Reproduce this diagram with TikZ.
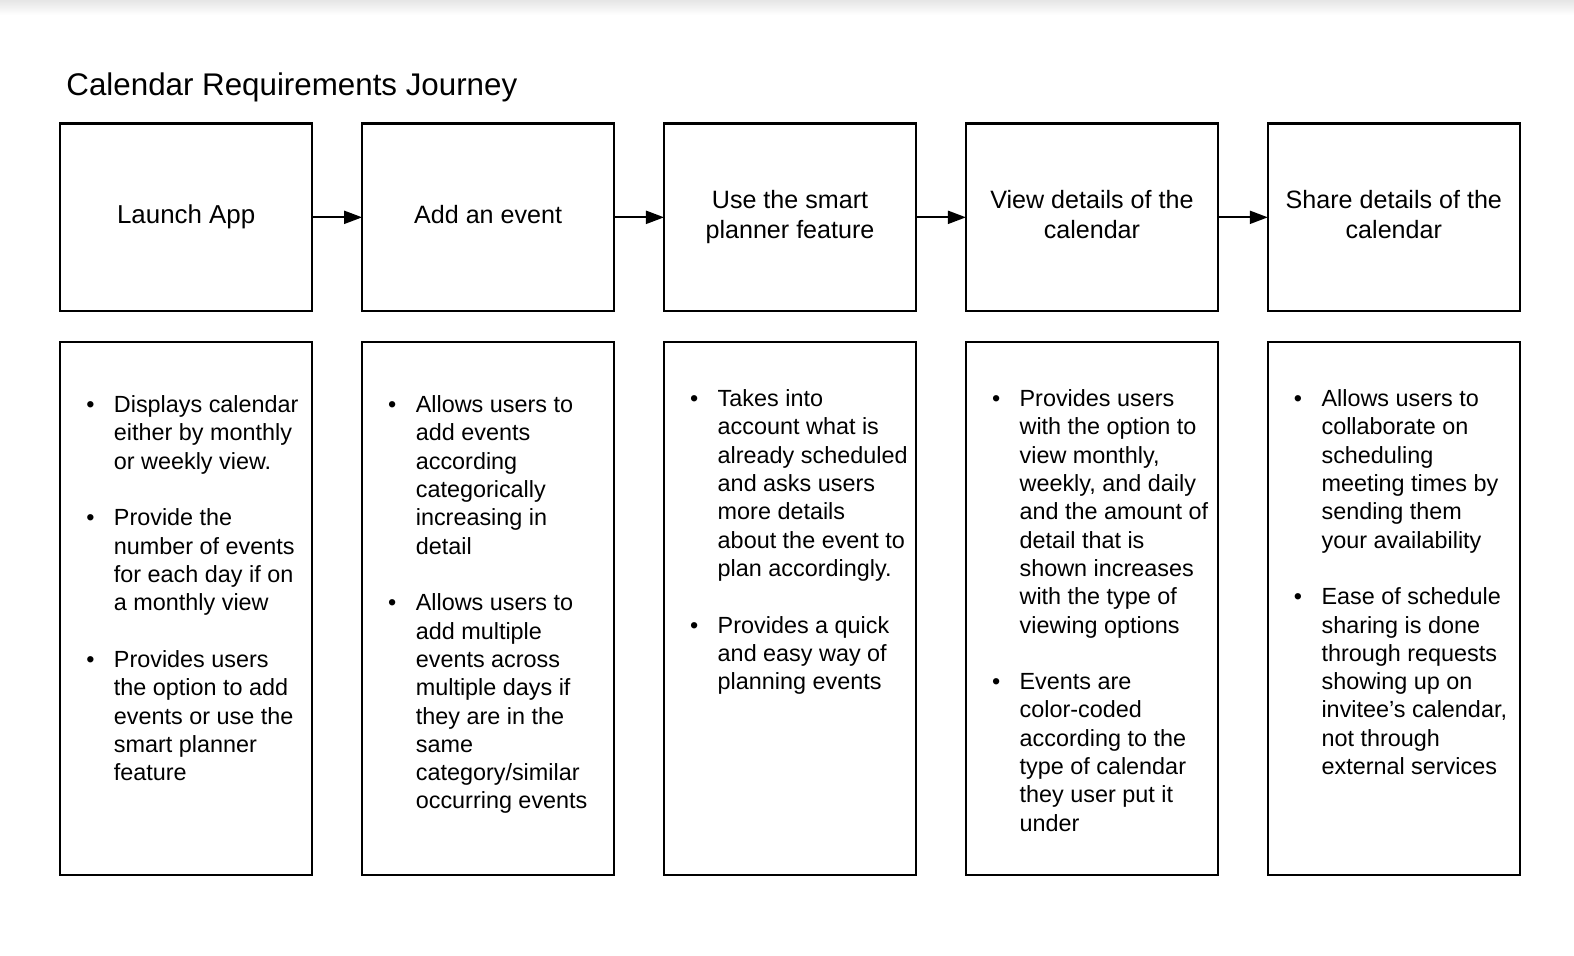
\documentclass[tikz,border=0pt]{standalone}
\usepackage{fontspec}
\setmainfont{Liberation Sans}
\usetikzlibrary{arrows.meta}
\newcommand\bodyfont{\fontsize{23.3}{28.2}\selectfont}
\newcommand\labelfont{\fontsize{25}{30}\selectfont}
\newenvironment{blist}{\bodyfont\begin{tabular}[t]{@{}p{27.5pt}@{}l@{}}}{\end{tabular}}
\newcommand\bu{\textbullet}
\begin{document}
\begin{tikzpicture}[x=1pt,y=-1pt,
  topbox/.style={draw, line width=2.2pt, minimum width=251pt, minimum height=187pt, inner sep=0pt, outer sep=0pt, align=center, font=\labelfont},
  botbox/.style={draw, line width=2.2pt, minimum width=251pt, minimum height=531pt, inner sep=0pt, outer sep=0pt},
  bodytext/.style={anchor=north west, inner sep=0pt, outer sep=0pt},
  arr/.style={line width=2pt, -{Triangle[length=18pt,width=13pt]}}]
\useasboundingbox (0,0) rectangle (1568,952);
\fill[white] (0,0) rectangle (1568,952);
\shade[top color=black!10, bottom color=white] (0,0) rectangle (1568,15);
\node[anchor=base west, inner sep=0pt, font=\fontsize{31.2}{36}\selectfont] (title) at (66,95) {Calendar Requirements Journey};
% top row
\node[topbox, font=\fontsize{25.8}{30}\selectfont] (t1) at (185.5,216.5) {\strut Launch App};
\node[topbox] (t2) at (486.25,216.5) {\strut Add an event};
\node[topbox] (t3) at (787,216.5) {\strut Use the smart\\\strut planner feature};
\node[topbox] (t4) at (1087.75,216.5) {\strut View details of the\\\strut calendar};
\node[topbox] (t5) at (1388.5,216.5) {\strut Share details of the\\\strut calendar};
\draw[arr] (t1.east) -- (t2.west);
\draw[arr] (t2.east) -- (t3.west);
\draw[arr] (t3.east) -- (t4.west);
\draw[arr] (t4.east) -- (t5.west);
% bottom row
\node[botbox] (b1) at (185.5,606.5) {};
\node[botbox] (b2) at (486.25,606.5) {};
\node[botbox] (b3) at (787,606.5) {};
\node[botbox] (b4) at (1087.75,606.5) {};
\node[botbox] (b5) at (1388.5,606.5) {};
\node[bodytext] (x1) at (86,391.3) {\begin{blist}
\bu & Displays calendar\\
 & either by monthly\\
 & or weekly view.\\
 & \\
\bu & Provide the\\
 & number of events\\
 & for each day if on\\
 & a monthly view\\
 & \\
\bu & Provides users\\
 & the option to add\\
 & events or use the\\
 & smart planner\\
 & feature
\end{blist}};
\node[bodytext] (x2) at (386.75,391.3) {\begin{blist}
\bu & Allows users to\\
 & add events\\
 & according\\
 & categorically\\
 & increasing in\\
 & detail\\
 & \\
\bu & Allows users to\\
 & add multiple\\
 & events across\\
 & multiple days if\\
 & they are in the\\
 & same\\
 & category/similar\\
 & occurring events
\end{blist}};
\node[bodytext] (x3) at (687.5,385.3) {\begin{blist}
\bu & Takes into\\
 & account what is\\
 & already scheduled\\
 & and asks users\\
 & more details\\
 & about the event to\\
 & plan accordingly.\\
 & \\
\bu & Provides a quick\\
 & and easy way of\\
 & planning events
\end{blist}};
\node[bodytext] (x4) at (988.25,385.3) {\begin{blist}
\bu & Provides users\\
 & with the option to\\
 & view monthly,\\
 & weekly, and daily\\
 & and the amount of\\
 & detail that is\\
 & shown increases\\
 & with the type of\\
 & viewing options\\
 & \\
\bu & Events are\\
 & color-coded\\
 & according to the\\
 & type of calendar\\
 & they user put it\\
 & under
\end{blist}};
\node[bodytext] (x5) at (1289,385.3) {\begin{blist}
\bu & Allows users to\\
 & collaborate on\\
 & scheduling\\
 & meeting times by\\
 & sending them\\
 & your availability\\
 & \\
\bu & Ease of schedule\\
 & sharing is done\\
 & through requests\\
 & showing up on\\
 & invitee’s calendar,\\
 & not through\\
 & external services
\end{blist}};
\end{tikzpicture}
\end{document}
